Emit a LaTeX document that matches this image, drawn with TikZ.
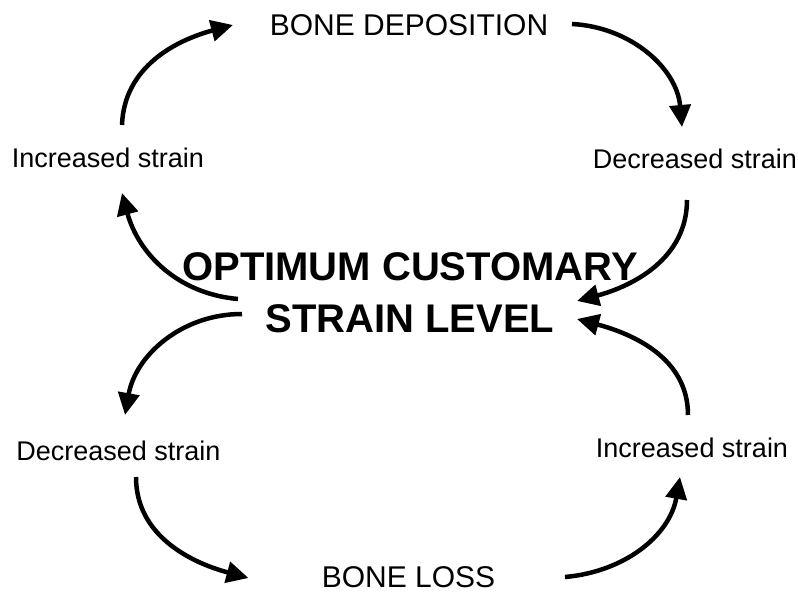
\documentclass[tikz,border=0pt]{standalone}
\usepackage{fontspec}
\setmainfont{Liberation Sans}
\usetikzlibrary{arrows.meta}

\begin{document}
\begin{tikzpicture}[x=1pt, y=1pt, >={Triangle[length=22pt, width=21pt]},
    lbl/.style={inner sep=0pt, font=\fontsize{27}{30}\selectfont},
    boneproc/.style={inner sep=0pt, font=\fontsize{30}{34}\selectfont},
    core/.style={inner sep=0pt, align=center, font=\fontsize{40}{52}\selectfont\bfseries},
    arr/.style={->, line width=4.5pt}]
    \useasboundingbox (0,0) rectangle (798,594);

    % 1. Centre
    \node[core] (opt) at (410,301.5) {OPTIMUM CUSTOMARY\\STRAIN LEVEL};

    % 2. Upper loop (bone deposition)
    \node[boneproc] (dep) at (409,569) {BONE DEPOSITION};
    \node[lbl] (incup) at (108,436) {Increased strain};
    \node[lbl] (decup) at (695,435) {Decreased strain};

    % 3. Lower loop (bone loss)
    \node[lbl] (decdn) at (118.5,143) {Decreased strain};
    \node[lbl] (incdn) at (692,146) {Increased strain};
    \node[boneproc] (loss) at (408.5,17) {BONE LOSS};

    % 4. Arrows of the upper loop
    \draw[arr] ([shift={(14,33)}]incup.center) to[out=88, in=195] ([shift={(-176,0)}]dep.center);
    \draw[arr] ([shift={(163,1)}]dep.center) to[out=-3, in=95] ([shift={(-13,32)}]decup.center);
    \draw[arr] ([shift={(-8,-41)}]decup.center) to[out=-90, in=15] ([shift={(167,-8.5)}]opt.center);
    \draw[arr] ([shift={(-172,-6.5)}]opt.center) to[out=175, in=-75] ([shift={(14,-35)}]incup.center);

    % 5. Arrows of the lower loop
    \draw[arr] ([shift={(-168,-21.5)}]opt.center) to[out=180, in=80] ([shift={(6.5,36)}]decdn.center);
    \draw[arr] ([shift={(17.5,-26)}]decdn.center) to[out=-90, in=165] ([shift={(-160,-1)}]loss.center);
    \draw[arr] ([shift={(156.5,0)}]loss.center) to[out=5, in=-100] ([shift={(-12,-29)}]incdn.center);
    \draw[arr] ([shift={(-4,33)}]incdn.center) to[out=90, in=-15] ([shift={(167,-26.5)}]opt.center);
\end{tikzpicture}
\end{document}
